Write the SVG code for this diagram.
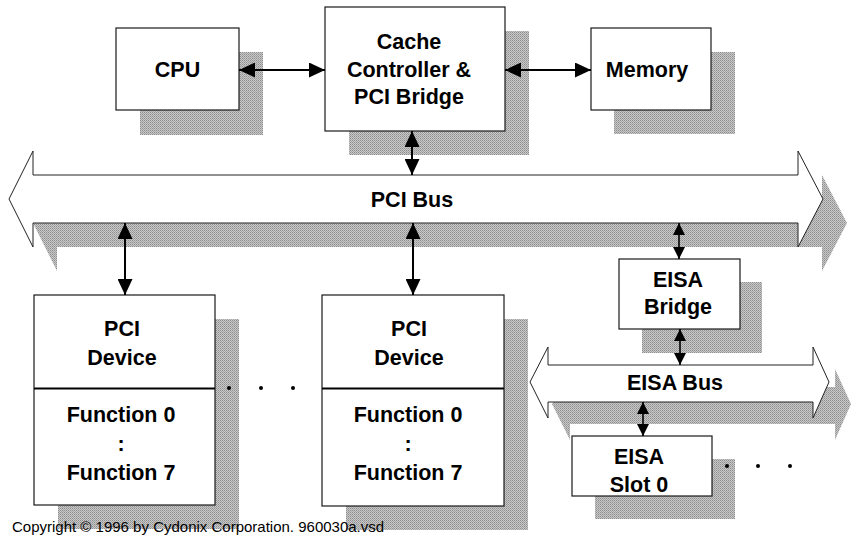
<svg xmlns="http://www.w3.org/2000/svg" width="851" height="548" viewBox="0 0 851 548">
<style>
.box{fill:#fff;stroke:#1a1a1a;stroke-width:1.2}
.shadow{fill:url(#dither);stroke:none}
.bus{fill:#fff;stroke:#222;stroke-width:1}
.lbl{font-family:"Liberation Sans",Arial,sans-serif;font-weight:bold;font-size:21.5px;fill:#000;text-anchor:middle}
.copy{font-family:"Liberation Sans",Arial,sans-serif;font-size:15px;fill:#000}
.conn{stroke:#000;stroke-width:2;fill:none;marker-start:url(#ah);marker-end:url(#ah)}
.conn2{stroke:#000;stroke-width:1.6;fill:none;marker-start:url(#ahs);marker-end:url(#ahs)}
.div{stroke:#000;stroke-width:2}
.dot{fill:#000}
</style>
<defs>
<pattern id="dither" width="2" height="2" patternUnits="userSpaceOnUse">
<rect width="2" height="2" fill="#c8c8c8"/>
<rect width="1" height="1" fill="#8e8e8e"/>
<rect x="1" y="1" width="1" height="1" fill="#a4a4a4"/>
</pattern>
<marker id="ah" markerUnits="userSpaceOnUse" markerWidth="16" markerHeight="15" refX="16" refY="7.5" orient="auto-start-reverse">
<path d="M0,0 L16,7.5 L0,15 z" fill="#000"/>
</marker>
<marker id="ahs" markerUnits="userSpaceOnUse" markerWidth="12" markerHeight="12" refX="12" refY="6" orient="auto-start-reverse">
<path d="M0,0 L12,6 L0,12 z" fill="#000"/>
</marker>
</defs>
<rect width="851" height="548" fill="#fff"/>

<g id="pci-bus">
<polygon class="shadow" points="33,223 57,175 57,199 822,199 822,175 847,223 822,271 822,247 57,247 57,271"/>
<polygon class="bus" points="9,199 33,151 33,175 798,175 798,151 823,199 798,247 798,223 33,223 33,247"/>
<text class="lbl" x="412" y="207">PCI Bus</text>
</g>

<g id="eisa-bus">
<polygon class="shadow" points="552,404 570,369 570,387 835,387 835,369 851,404 835,440 835,424 570,424 570,440"/>
<polygon class="bus" points="530,382 548,347 548,365 813,365 813,347 829,382 813,418 813,402 548,402 548,418"/>
<text class="lbl" x="675" y="390">EISA Bus</text>
</g>

<g id="cpu">
<rect class="shadow" x="140" y="52" width="123" height="83"/>
<rect class="box" x="116" y="28" width="123" height="82"/>
<text class="lbl" x="177.5" y="77">CPU</text>
</g>

<g id="cache">
<rect class="shadow" x="349" y="31" width="180" height="124"/>
<rect class="box" x="325" y="7" width="180" height="124"/>
<text class="lbl" x="409" y="49">Cache</text>
<text class="lbl" x="409" y="76.5">Controller &amp;</text>
<text class="lbl" x="409" y="104">PCI Bridge</text>
</g>

<g id="memory">
<rect class="shadow" x="614" y="52" width="121" height="82"/>
<rect class="box" x="591" y="28" width="120" height="82"/>
<text class="lbl" x="647" y="77">Memory</text>
</g>

<g id="pci-device-1">
<rect class="shadow" x="58" y="319" width="181" height="210"/>
<rect class="box" x="34" y="295" width="181" height="210"/>
<line class="div" x1="34" y1="388.5" x2="215" y2="388.5"/>
<text class="lbl" x="122" y="336">PCI</text>
<text class="lbl" x="122" y="365">Device</text>
<text class="lbl" x="121" y="422">Function 0</text>
<text class="lbl" x="121" y="451">:</text>
<text class="lbl" x="121" y="480">Function 7</text>
</g>

<g id="pci-dots">
<circle class="dot" cx="229" cy="388" r="2"/>
<circle class="dot" cx="261" cy="388" r="2"/>
<circle class="dot" cx="293" cy="388" r="2"/>
</g>

<g id="pci-device-2">
<rect class="shadow" x="346" y="319" width="182" height="211"/>
<rect class="box" x="322" y="295" width="182" height="211"/>
<line class="div" x1="322" y1="388.5" x2="504" y2="388.5"/>
<text class="lbl" x="409" y="336">PCI</text>
<text class="lbl" x="409" y="365">Device</text>
<text class="lbl" x="408" y="422">Function 0</text>
<text class="lbl" x="408" y="451">:</text>
<text class="lbl" x="408" y="480">Function 7</text>
</g>

<g id="eisa-bridge">
<rect class="shadow" x="642" y="282" width="120" height="71"/>
<rect class="box" x="619" y="259" width="121" height="70"/>
<text class="lbl" x="678" y="287">EISA</text>
<text class="lbl" x="678" y="314">Bridge</text>
</g>

<g id="eisa-slot-0">
<rect class="shadow" x="595" y="459" width="140" height="60"/>
<rect class="box" x="572" y="436" width="140" height="60"/>
<text class="lbl" x="639" y="464">EISA</text>
<text class="lbl" x="639" y="492">Slot 0</text>
</g>

<g id="eisa-dots">
<circle class="dot" cx="727" cy="466" r="2"/>
<circle class="dot" cx="758" cy="466" r="2"/>
<circle class="dot" cx="790" cy="466" r="2"/>
</g>

<g id="connectors">
<line class="conn" x1="239" y1="70" x2="325" y2="70"/>
<line class="conn" x1="505" y1="70" x2="591" y2="70"/>
<line class="conn" x1="412" y1="131" x2="412" y2="175"/>
<line class="conn" x1="125" y1="223" x2="125" y2="295"/>
<line class="conn" x1="413" y1="223" x2="413" y2="295"/>
<line class="conn2" x1="679" y1="223" x2="679" y2="259"/>
<line class="conn2" x1="680" y1="329" x2="680" y2="365"/>
<line class="conn2" x1="643" y1="402" x2="643" y2="436"/>
</g>

<text class="copy" x="12" y="532">Copyright © 1996 by Cydonix Corporation. 960030a.vsd</text>
</svg>
